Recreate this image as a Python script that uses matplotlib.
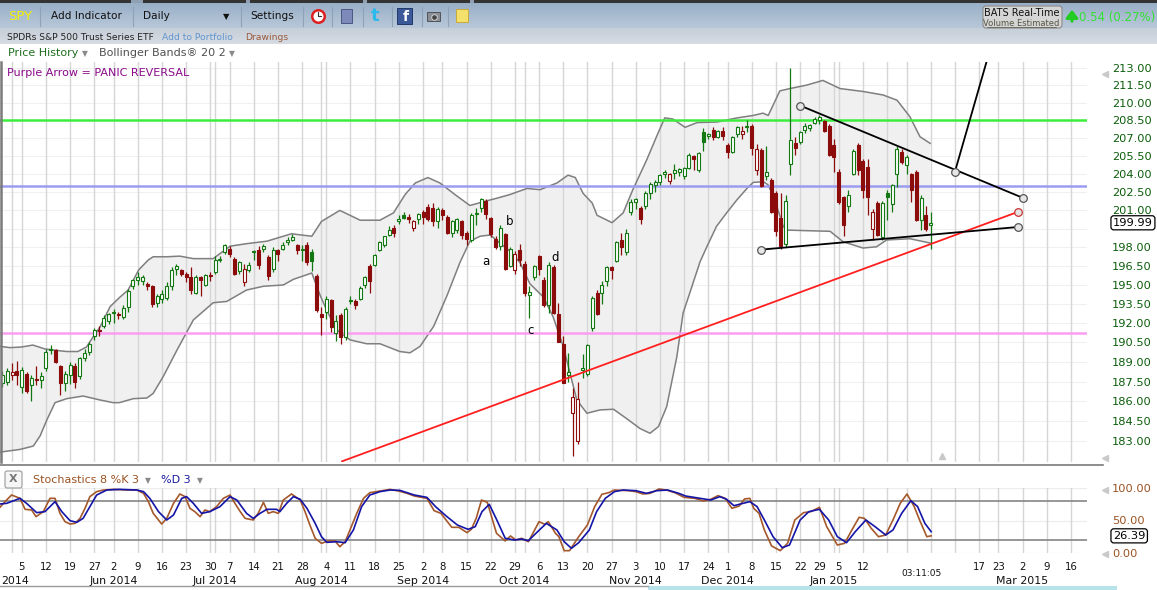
import numpy as np
import pandas as pd
import matplotlib
matplotlib.use("Agg")
import matplotlib.pyplot as plt
from matplotlib.patches import Rectangle, FancyBboxPatch
from matplotlib.ticker import FixedLocator, NullLocator, FormatStrFormatter
from matplotlib.transforms import blended_transform_factory

W, H, DPI = 1157, 590, 100

# ------------------------------------------------------------------
# data: SPY daily candles, 29 Apr 2014 .. 2 Feb 2015 (trading-day index 1..193)
# ------------------------------------------------------------------
HOLIDAYS = ["2014-05-26", "2014-07-04", "2014-09-01", "2014-11-27",
            "2014-12-25", "2015-01-01", "2015-01-19", "2015-02-16"]
FIRST_CANDLE = 1

opens = [
    187.4, 187.5, 188.0, 188.3, 187.1, 188.1, 187.2, 187.7, 187.6, 188.5,
    189.9, 189.9, 188.7, 187.4, 188.0, 188.7, 187.9, 189.3, 189.8, 191.0,
    191.5, 191.8, 192.2, 192.8, 192.7, 192.5, 193.3, 194.9, 195.4, 195.3,
    195.1, 194.9, 193.6, 193.9, 194.0, 194.9, 196.3, 196.2, 195.9, 195.6,
    194.4, 195.6, 195.0, 195.8, 196.0, 197.0, 197.6, 197.9, 197.1, 196.1,
    195.2, 196.2, 197.6, 197.8, 197.9, 197.2, 196.3, 197.8, 197.9, 198.4,
    198.6, 198.2, 197.8, 198.2, 197.6, 195.7, 192.7, 192.9, 193.8, 191.2,
    192.6, 190.9, 193.8, 193.7, 193.9, 195.0, 196.5, 196.6, 197.8, 198.2,
    199.0, 199.6, 200.1, 200.6, 200.5, 199.6, 200.3, 200.9, 201.3, 201.2,
    200.1, 201.0, 200.5, 199.2, 199.4, 200.1, 199.2, 198.6, 200.7, 201.2,
    201.8, 200.4, 198.7, 198.1, 199.1, 196.5, 196.2, 197.8, 196.7, 194.2,
    195.6, 197.3, 195.4, 193.4, 196.4, 192.7, 190.4, 188.0, 185.1, 183.0,
    188.4, 188.1, 191.6, 194.4, 194.4, 195.3, 196.4, 196.9, 198.6, 197.6,
    200.9, 201.7, 201.2, 201.4, 202.4, 203.1, 203.3, 204.0, 203.4, 204.1,
    204.2, 203.8, 204.5, 205.5, 204.3, 207.5, 207.2, 207.7, 207.1, 207.6,
    206.4, 205.8, 207.3, 207.3, 207.9, 208.0, 204.3, 206.0, 203.8, 203.5,
    202.4, 200.4, 198.3, 204.8, 206.6, 206.7, 207.7, 207.8, 208.3, 208.5,
    208.4, 208.0, 206.4, 204.2, 202.1, 201.4, 204.0, 206.4, 205.1, 204.6,
    199.5, 201.6, 198.8, 202.4, 201.5, 204.0, 205.8, 204.7, 204.0, 204.2,
    200.2, 200.6, 199.8]
highs = [
    188.3, 188.5, 188.9, 189.1, 188.6, 188.2, 188.0, 188.7, 188.2, 190.0,
    190.3, 190.0, 188.8, 188.3, 189.0, 188.9, 189.4, 190.0, 190.5, 191.6,
    191.8, 192.6, 192.8, 193.1, 192.9, 193.4, 194.7, 195.5, 196.0, 195.8,
    195.2, 195.0, 194.3, 194.6, 195.2, 196.4, 196.7, 196.3, 196.0, 196.4,
    195.8, 195.7, 195.9, 196.0, 197.3, 197.3, 198.3, 198.1, 197.2, 196.9,
    196.7, 196.8, 197.8, 198.1, 198.3, 197.4, 198.0, 197.9, 198.4, 198.8,
    199.1, 198.3, 198.2, 198.4, 197.9, 195.9, 193.3, 194.1, 193.9, 192.6,
    192.8, 193.3, 194.1, 193.9, 194.9, 195.7, 196.7, 197.5, 198.5, 198.9,
    199.7, 199.8, 200.6, 200.9, 200.7, 200.2, 200.8, 201.0, 201.5, 201.6,
    201.3, 201.2, 200.6, 200.2, 200.4, 200.2, 199.3, 200.8, 201.2, 202.0,
    201.9, 200.5, 198.9, 199.8, 199.2, 198.0, 197.7, 198.3, 196.9, 194.9,
    196.6, 197.4, 195.6, 196.8, 196.6, 193.6, 191.0, 189.7, 187.0, 187.5,
    189.6, 190.4, 194.1, 194.6, 195.3, 196.5, 196.5, 198.5, 199.2, 199.5,
    201.9, 202.0, 201.4, 202.6, 203.3, 203.5, 204.0, 204.3, 204.1, 204.8,
    204.5, 204.6, 205.7, 205.6, 205.8, 207.8, 207.4, 207.9, 207.7, 207.9,
    206.6, 207.2, 208.0, 208.0, 208.5, 208.2, 206.5, 206.2, 206.3, 203.7,
    202.6, 202.4, 202.3, 213.0, 207.1, 207.6, 208.3, 208.2, 208.8, 208.9,
    208.5, 208.2, 206.9, 204.4, 202.2, 202.7, 206.1, 206.6, 205.2, 205.2,
    201.1, 201.8, 201.8, 202.7, 203.2, 206.3, 206.1, 205.6, 204.1, 204.3,
    202.3, 201.4, 200.9]
lows = [
    187.1, 187.2, 187.6, 187.2, 186.6, 186.6, 186.0, 187.2, 187.0, 188.3,
    189.6, 188.9, 186.5, 186.8, 187.3, 187.0, 187.7, 189.1, 189.5, 190.7,
    191.0, 191.6, 191.9, 192.0, 192.3, 192.3, 192.9, 194.7, 195.0, 195.0,
    194.6, 193.3, 193.3, 193.6, 193.8, 194.6, 195.8, 195.7, 195.2, 194.3,
    194.3, 194.1, 194.9, 195.3, 195.9, 196.8, 197.5, 197.2, 195.8, 195.9,
    194.9, 196.0, 197.0, 196.3, 197.6, 195.4, 196.0, 196.9, 197.8, 198.2,
    198.5, 197.5, 196.9, 196.6, 196.1, 192.9, 191.1, 192.3, 191.3, 190.6,
    190.4, 190.7, 193.5, 193.1, 193.8, 194.8, 194.4, 196.5, 197.7, 198.0,
    198.9, 198.8, 199.9, 200.3, 200.0, 199.3, 199.9, 199.9, 200.1, 199.7,
    199.6, 200.2, 199.1, 198.8, 199.2, 198.7, 198.2, 198.4, 199.8, 200.9,
    200.3, 198.8, 197.9, 197.8, 196.2, 196.4, 195.9, 196.5, 194.1, 192.4,
    195.4, 195.8, 193.3, 192.8, 192.7, 190.5, 187.4, 187.5, 181.9, 182.8,
    187.8, 187.9, 191.4, 192.6, 193.5, 194.9, 195.5, 196.8, 197.4, 197.4,
    200.6, 201.1, 199.9, 201.1, 201.9, 202.5, 203.1, 203.7, 203.2, 203.6,
    203.8, 203.6, 204.4, 204.3, 204.2, 205.9, 206.9, 206.8, 207.0, 206.8,
    205.3, 205.7, 207.1, 206.9, 207.5, 205.6, 203.9, 202.9, 203.5, 200.8,
    198.9, 197.9, 198.0, 203.9, 205.6, 206.5, 207.4, 207.6, 208.2, 208.2,
    207.5, 205.5, 204.2, 201.5, 198.9, 200.9, 203.9, 203.9, 202.0, 200.6,
    198.6, 198.9, 198.6, 200.2, 200.9, 202.9, 204.8, 204.0, 201.7, 200.1,
    199.4, 199.3, 197.9]
closes = [
    188.0, 188.3, 188.2, 188.0, 188.4, 186.8, 187.8, 187.6, 187.95, 189.8,
    190.0, 189.0, 187.4, 188.1, 188.8, 187.5, 189.3, 189.7, 190.4, 191.5,
    191.4, 192.4, 192.7, 192.9, 192.6, 193.2, 194.5, 195.4, 195.6, 195.65,
    194.9, 193.5, 194.1, 194.3, 194.9, 196.2, 196.5, 195.9, 195.6, 194.6,
    195.6, 195.4, 195.8, 195.7, 197.0, 197.1, 198.2, 197.5, 195.9, 196.8,
    196.3, 196.6, 197.7, 196.6, 198.1, 195.7, 197.8, 197.5, 198.2, 198.6,
    198.8, 197.8, 197.9, 196.8, 196.9, 193.0, 192.5, 193.9, 191.7, 192.2,
    190.9, 193.1, 193.7, 193.4, 194.8, 195.6, 195.3, 197.4, 198.4, 198.9,
    199.4, 199.2, 200.3, 200.4, 200.3, 200.1, 200.7, 200.5, 200.3, 200.1,
    201.1, 200.6, 199.2, 200.1, 200.3, 199.0, 198.7, 200.6, 200.8, 201.9,
    200.7, 199.1, 198.0, 199.6, 196.3, 197.9, 197.5, 197.0, 194.4, 194.45,
    196.5, 196.3, 193.4, 196.6, 192.8, 190.5, 187.4, 188.2, 186.3, 186.2,
    188.5, 190.3, 194.0, 192.7, 195.0, 196.4, 196.2, 198.4, 198.0, 199.2,
    201.7, 201.9, 200.3, 202.4, 203.2, 203.3, 203.9, 204.2, 204.0, 204.3,
    204.4, 204.5, 205.6, 205.2, 205.7, 206.7, 207.3, 207.1, 207.6, 207.2,
    205.8, 207.1, 207.9, 207.6, 208.0, 206.2, 206.1, 203.0, 204.2, 200.9,
    199.3, 198.1, 201.8, 206.8, 206.2, 207.5, 208.0, 208.1, 208.6, 208.8,
    207.6, 205.6, 205.4, 201.7, 199.8, 202.3, 205.9, 204.3, 202.7, 202.1,
    200.9, 199.0, 201.6, 202.1, 203.1, 206.1, 205.0, 205.4, 202.7, 200.2,
    202.0, 199.45, 199.99]

# Bollinger Bands (20, 2)
upper_idx = [0.5, 2.6, 5.0, 7.3, 9.8, 11.9, 14.3, 16.6, 18.4, 19.8, 21.2, 23.3, 25.2,
             27.0, 29.2, 31.2, 32.2, 35.0, 37.7, 40.5, 44.6, 48.1, 51.5, 55.7, 60.8,
             65.0, 67.0, 70.8, 75.0, 79.1, 81.9, 84.3, 86.4, 89.0, 91.5, 94.6, 97.7,
             100.4, 103.3, 106.0, 109.5, 112.2, 115.7, 118.0, 119.5, 121.1, 123.0,
             124.0, 127.1, 129.4, 131.4, 134.3, 136.6, 138.0, 139.7, 142.2, 144.7,
             148.8, 153.0, 156.25, 158.3, 159.4, 161.8, 163.9, 167.4, 170.7, 174.25,
             179.0, 183.15, 186.05, 188.7, 190.8, 192.9]
upper_val = [190.2, 190.1, 190.15, 190.3, 190.0, 189.9, 189.8, 189.8, 190.15, 190.95,
             191.7, 193.3, 194.0, 194.6, 196.2, 197.0, 197.25, 197.25, 197.3, 197.1,
             197.1, 198.1, 198.3, 198.5, 199.1, 198.9, 200.1, 201.0, 200.2, 200.2,
             200.8, 202.3, 203.25, 203.7, 203.25, 202.3, 201.4, 201.7, 202.0, 202.3,
             202.8, 202.7, 203.25, 203.9, 203.7, 202.4, 201.6, 200.6, 200.0, 200.8,
             202.7, 205.2, 207.4, 208.7, 208.6, 207.9, 208.3, 208.35, 208.7, 208.9,
             209.1, 208.9, 211.0, 211.2, 211.5, 211.9, 211.2, 210.95, 210.65, 210.2,
             208.8, 207.1, 206.55]
lower_idx = [0.5, 4.65, 7.4, 8.8, 10.2, 11.9, 14.3, 17.7, 21.2, 23.9, 25.2, 28.1, 30.9,
             32.2, 34.3, 37.1, 40.5, 44.6, 47.4, 51.5, 55.0, 59.1, 61.2, 65.0, 66.7,
             68.1, 70.1, 72.9, 76.35, 79.1, 83.2, 85.3, 87.4, 90.2, 92.9, 95.65, 97.7,
             99.8, 101.9, 103.9, 106.0, 108.1, 110.1, 112.9, 114.9, 117.0, 118.4,
             119.8, 121.9, 124.6, 127.4, 130.1, 132.9, 134.95, 136.7, 138.4, 140.5,
             141.8, 143.2, 145.3, 146.7, 148.7, 150.8, 152.9, 155.0, 156.3, 158.4,
             159.35, 160.2, 161.2, 162.5, 163.3, 167.4, 172.2, 174.9, 179.0, 181.8,
             183.9, 188.7, 192.9]
lower_val = [182.2, 182.4, 182.65, 183.4, 184.6, 185.9, 186.2, 186.4, 186.1, 185.9,
             185.9, 186.2, 186.25, 186.6, 187.9, 189.9, 192.25, 193.6, 193.7, 194.6,
             194.9, 195.0, 195.45, 195.95, 194.2, 193.0, 191.5, 190.7, 190.4, 190.4,
             189.8, 189.7, 190.2, 191.75, 194.1, 196.8, 198.5, 198.9, 199.0, 198.35,
             197.7, 196.75, 195.1, 194.05, 192.5, 190.2, 188.15, 186.1, 185.1, 185.35,
             185.4, 184.7, 183.95, 183.6, 184.1, 185.6, 189.4, 192.8, 194.4, 196.85,
             198.05, 199.7, 200.8, 201.85, 202.8, 203.3, 203.35, 203.1, 202.4, 201.3,
             199.7, 199.4, 199.35, 199.3, 198.45, 197.95, 198.05, 198.6, 198.7, 198.35]

# Stochastics 8 %K 3 / %D 3
k_idx = [0.5, 1.55, 2.9, 4.65, 5.7, 7.06, 7.96, 9.47, 10.85, 11.89, 12.92, 13.96, 14.99,
         16.02, 17.06, 18.09, 19.1, 20.5, 21.9, 23.95, 26.7, 28.8, 30.2, 31.2, 32.2,
         33.95, 35.0, 36.4, 37.7, 38.8, 39.8, 40.8, 41.9, 42.9, 43.9, 45.3, 46.7, 48.1,
         49.1, 50.2, 51.2, 52.9, 53.9, 55.0, 56.0, 57.0, 58.1, 59.1, 60.8, 62.6, 63.6,
         64.6, 65.7, 67.0, 68.4, 69.8, 70.8, 71.9, 72.9, 74.3, 75.7, 77.0, 79.1, 81.2,
         83.2, 84.7, 86.2, 88.8, 90.3, 91.7, 93.95, 95.4, 97.1, 98.0, 99.0, 100.1,
         101.3, 103.2, 105.0, 106.1, 107.2, 108.4, 109.8, 112.0, 113.2, 113.9, 115.4,
         116.1, 117.2, 118.3, 120.2, 122.0, 123.5, 125.0, 126.4, 127.6, 130.5, 132.0,
         133.5, 135.0, 136.8, 138.3, 140.1, 142.0, 144.2, 146.0, 147.5, 149.0, 150.5,
         151.9, 153.4, 154.5, 155.6, 156.4, 157.5, 158.6, 160.1, 161.9, 163.4, 164.9,
         166.7, 168.2, 170.0, 171.5, 173.7, 175.2, 176.7, 178.2, 179.3, 180.7, 182.2,
         183.7, 185.2, 186.7, 188.1, 189.6, 190.7, 192.2, 193.1]
k_val = [70.3, 79.0, 89.2, 84.1, 67.2, 66.2, 55.9, 63.6, 84.1, 84.1, 61.0, 48.2, 44.6,
         45.6, 53.3, 68.7, 86.7, 94.4, 96.9, 97.9, 96.9, 96.9, 91.8, 79.0, 61.0,
         44.6, 53.3, 76.4, 90.8, 86.7, 68.7, 63.6, 55.9, 66.2, 63.6, 71.3, 84.1, 89.2,
         76.4, 63.6, 53.3, 50.8, 61.0, 77.9, 61.0, 63.6, 61.0, 81.5, 90.8, 81.5, 63.6,
         43.1, 22.6, 14.9, 18.5, 18.5, 9.7, 17.4, 35.4, 61.0, 84.1, 92.8, 95.4, 97.9,
         94.9, 91.8, 87.7, 84.1, 65.1, 61.0, 39.5, 39.5, 31.3, 36.4, 53.3, 81.5,
         77.9, 30.3, 18.5, 26.2, 20.0, 22.6, 17.4, 48.2, 44.1, 48.2, 30.3,
         25.1, 3.6, 3.6, 25.1, 43.1, 71.3, 90.3, 92.8, 96.9, 95.9, 94.4,
         90.8, 91.8, 98.5, 96.9, 92.8, 85.6, 84.1, 80.0, 82.6, 88.2, 84.1,
         68.7, 72.3, 83.1, 84.1, 68.7, 61.0, 35.4, 10.8, 3.6, 14.9, 50.8,
         62.1, 63.6, 70.3, 40.5, 12.3, 14.9, 35.4, 54.9, 53.3, 38.0, 25.1,
         27.7, 50.8, 76.4, 90.8, 71.3, 50.8, 25.1, 26.4]
d_idx = [0.5, 1.9, 4.65, 6.0, 8.1, 9.8, 11.9, 13.3, 15.0, 16.4, 17.7, 19.1, 20.5, 22.6,
         25.3, 28.8, 30.2, 31.5, 33.3, 35.0, 36.4, 38.1, 39.1, 40.5, 42.2, 43.9, 46.0,
         48.1, 49.5, 51.5, 52.9, 54.3, 55.7, 57.7, 58.4, 59.8, 61.2, 62.6, 64.0, 65.7,
         67.0, 68.1, 70.1, 71.9, 73.6, 75.3, 77.0, 79.1, 81.2, 83.2, 86.2, 88.8, 90.6,
         92.8, 95.1, 97.3, 98.8, 100.2, 101.7, 103.2, 105.0, 106.9, 108.4, 109.8,
         111.7, 113.5, 115.7, 117.2, 118.7, 120.2, 122.4, 123.9, 125.7, 127.6, 129.4,
         132.0, 134.2, 136.4, 138.6, 140.9, 142.3, 145.3, 147.5, 149.4, 150.8, 152.3,
         154.2, 155.6, 157.1, 158.6, 160.4, 162.3, 163.8, 166.0, 167.8, 170.0, 171.9,
         173.7, 175.6, 177.4, 179.6, 181.5, 183.7, 185.2, 187.0, 188.9, 190.3, 191.8,
         193.1]
d_val = [75.4, 76.4, 84.1, 76.4, 62.1, 63.6, 79.0, 63.6, 49.7, 47.2, 53.3, 71.3, 89.2, 96.9,
         97.9, 96.9, 94.4, 84.1, 63.6, 50.8, 58.5, 84.1, 86.7, 76.4, 61.0, 63.6, 71.3,
         86.7, 81.5, 61.0, 53.3, 61.0, 67.2, 67.2, 63.6, 76.4, 86.7, 82.6, 68.7, 45.6,
         25.1, 16.4, 17.4, 15.9, 35.4, 71.3, 89.2, 94.4, 96.9, 96.4, 89.2, 85.6, 71.3,
         56.9, 43.1, 36.4, 40.5, 63.6, 74.9, 51.8, 22.6, 20.0, 21.5, 19.0,
         32.8, 45.6, 35.4, 17.4, 7.2, 15.9, 35.4, 63.6, 84.1, 94.4, 96.9,
         95.9, 91.8, 95.9, 96.9, 91.8, 87.7, 84.1, 81.5, 86.7, 82.6, 72.8,
         76.4, 79.0, 71.3, 50.8, 25.1, 8.2, 12.3, 50.8, 63.6, 67.2, 50.8,
         25.1, 15.9, 32.8, 50.8, 40.5, 27.7, 35.4, 61.0, 80.5, 71.3, 45.6,
         32.8]

# horizontal levels and drawn trend lines (index, price)
green_level = 208.55
blue_level = 203.0
pink_level = 191.2
res_line = ([166.03, 212.1], [209.74, 202.02])
steep_line = ([198.02, 205.85], [204.19, 215.41])
sup_line = ([157.9, 211.12], [197.82, 199.65])
red_line = ([71.25, 211.12], [181.52, 200.89])
anchor_idx = [166.03, 198.02, 212.1, 157.9, 211.12]
anchor_val = [209.74, 204.19, 202.02, 197.82, 199.65]
red_anchor = (211.12, 200.89)
wave_labels = ["a", "b", "c", "d"]
wave_idx = [101.0, 106.0, 110.3, 115.3]
wave_val = [196.83, 200.06, 191.39, 197.23]
price_ticks = [183 + 1.5 * k for k in range(21) if k != 11]
last_price = 199.99
last_stoch = 26.39
hidden_weeks = ["2015-01-20", "2015-01-26", "2015-02-02", "2015-02-09"]
hidden_months = ["Feb 2015"]

# ------------------------------------------------------------------
cal = pd.bdate_range("2014-04-28", "2015-03-20")
cal = cal[~cal.isin(pd.to_datetime(HOLIDAYS))]
wk = cal.to_period("W")
mo = cal.to_period("M")
week_first = [i for i in range(1, len(cal)) if wk[i] != wk[i - 1]]
month_first = [i for i in range(1, len(cal)) if mo[i] != mo[i - 1]]
grid_idx = sorted(set(week_first + month_first))

X_LEFT, X_RIGHT = 0.512, 225.33
GREEN, RED = "#127812", "#8c0b0b"

fig = plt.figure(figsize=(W / DPI, H / DPI), dpi=DPI)
fig.patch.set_facecolor("white")

# ---------------- price panel ----------------
ax = fig.add_axes([0, 1 - 462 / H, 1087 / W, 400 / H])
ax.set_facecolor("none")
ax.set_yscale("log")
for s in ax.spines.values():
    s.set_visible(False)

for t in np.arange(183, 213.01, 1.5):
    ax.axhline(t, color="#f0f0f0", lw=0.8, zorder=0)

px = upper_idx + lower_idx[::-1]
py = upper_val + lower_val[::-1]
ax.fill(px, py, color="#f0f0f0", lw=0, zorder=1)
for i in grid_idx:
    ax.axvline(i, color="#d6d6d6", lw=1.0, zorder=1.5)
ax.plot(upper_idx, upper_val, color="#7f7f7f", lw=1.1, zorder=2)
ax.plot(lower_idx, lower_val, color="#7f7f7f", lw=1.1, zorder=2)

ax.axhline(green_level, color="#3cee3c", lw=1.8, zorder=3)
ax.axhline(blue_level, color="#9c9cf2", lw=1.8, zorder=3)
ax.axhline(pink_level, color="#fb9ef0", lw=1.8, zorder=3)

o = np.array(opens); h = np.array(highs); l = np.array(lows); c = np.array(closes)
cx = np.arange(FIRST_CANDLE, FIRST_CANDLE + len(c))
prev = np.r_[o[0], c[:-1]]
col = np.where(c >= prev, GREEN, RED)
hollow = c > o
bot = np.minimum(o, c)
hgt = np.maximum(np.abs(c - o), 0.04)
ax.vlines(cx, l, h, colors=col, lw=0.9, zorder=4)
ax.bar(cx, hgt, bottom=bot, width=0.62, color=np.where(hollow, "white", col),
       edgecolor=col, linewidth=0.8, zorder=5)

ax.plot(*red_line, color="#ff1f1f", lw=1.3, zorder=6)
ax.plot(*res_line, color="black", lw=1.3, zorder=6)
ax.plot(*steep_line, color="black", lw=1.3, zorder=6)
ax.plot(*sup_line, color="black", lw=1.3, zorder=6)
ax.plot(anchor_idx, anchor_val, "o", ms=5.5, mfc="#e6e6e6", mec="#555555", mew=0.9, zorder=7)
ax.plot(*red_anchor, "o", ms=5.5, mfc="#e6e6e6", mec="#cc3333", mew=0.9, zorder=7)
for lab, xi, yv in zip(wave_labels, wave_idx, wave_val):
    ax.text(xi, yv, lab, fontsize=8.5, ha="center", va="center", zorder=8)

ax.set_xlim(X_LEFT, X_RIGHT)
ax.set_ylim(181.47, 213.49)
ax.set_xticks([])
ax.yaxis.tick_right()
ax.yaxis.set_major_locator(FixedLocator(price_ticks))
ax.yaxis.set_major_formatter(FormatStrFormatter("%.2f"))
ax.yaxis.set_minor_locator(NullLocator())
ax.tick_params(axis="y", length=0, pad=18, labelsize=8.2, labelcolor="#0b5d0b")
ax.text(1 + 26 / 1087, last_price, f"{last_price:.2f}", transform=ax.get_yaxis_transform(),
        ha="left", va="center", fontsize=8.2, color="black",
        bbox=dict(boxstyle="round,pad=0.18,rounding_size=0.25", fc="white", ec="black", lw=0.9))

# ---------------- stochastics panel ----------------
ax2 = fig.add_axes([0, 1 - 553 / H, 1087 / W, 65 / H])
ax2.set_facecolor("none")
for s in ax2.spines.values():
    s.set_visible(False)
for v in (0, 50, 100):
    ax2.axhline(v, color="#ececec", lw=0.8, zorder=0)
for i in grid_idx:
    ax2.axvline(i, color="#d6d6d6", lw=1.0, zorder=1)
ax2.axhline(80, color="#858585", lw=1.2, zorder=2)
ax2.axhline(20, color="#858585", lw=1.2, zorder=2)
ax2.plot(k_idx, k_val, color="#a5582a", lw=1.2, zorder=3)
ax2.plot(d_idx, d_val, color="#1414a8", lw=1.2, zorder=4)
ax2.set_xlim(X_LEFT, X_RIGHT)
ax2.set_ylim(0, 100)
ax2.set_xticks([])
ax2.yaxis.tick_right()
ax2.yaxis.set_major_locator(FixedLocator([0, 50, 100]))
ax2.yaxis.set_major_formatter(FormatStrFormatter("%.2f"))
ax2.tick_params(axis="y", length=0, pad=18, labelsize=8.2, labelcolor="#9a5322")
ax2.text(1 + 26 / 1087, last_stoch, f"{last_stoch:.2f}", transform=ax2.get_yaxis_transform(),
         ha="left", va="center", fontsize=8.2, color="black",
         bbox=dict(boxstyle="round,pad=0.18,rounding_size=0.25", fc="white", ec="black", lw=0.9))

# ---------------- overlay in pixel coordinates ----------------
ov = fig.add_axes([0, 0, 1, 1], zorder=10)
ov.patch.set_alpha(0)

g1 = np.linspace(0, 1, 25)[:, None, None]
top_c = np.array([0.60, 0.69, 0.78]); mid_c = np.array([0.72, 0.78, 0.85])
ov.imshow(top_c + (mid_c - top_c) * g1, extent=[0, W, 28, 3], aspect="auto", zorder=0)
g2 = np.linspace(0, 1, 16)[:, None, None]
lo_a = np.array([0.78, 0.81, 0.85]); lo_b = np.array([0.84, 0.86, 0.89])
ov.imshow(lo_a + (lo_b - lo_a) * g2, extent=[0, W, 44, 28], aspect="auto", zorder=0)
ov.add_patch(Rectangle((0, 0), W, 3, fc="#333333", ec="none", zorder=1))
for gx in (131, 246, 363, 470):
    ov.add_patch(Rectangle((gx, 0), 12 if gx == 131 else 4, 3, fc="#8fa0b2", ec="none", zorder=1))
for sx in (40, 133, 241, 303, 332, 363, 392, 422, 448):
    ov.plot([sx, sx], [7, 26], color="#8ea1b5", lw=0.8, zorder=1)

ov.text(8, 16, "SPY", color="#f2f200", fontsize=9.5, va="center", zorder=2)
ov.text(51, 16, "Add Indicator", color="#111111", fontsize=7.6, va="center", zorder=2)
ov.text(143, 16, "Daily", color="#111111", fontsize=7.6, va="center", zorder=2)
ov.text(226, 17, "\u25BC", color="#111111", fontsize=6, va="center", ha="center", zorder=2)
ov.text(250, 16, "Settings", color="#111111", fontsize=7.6, va="center", zorder=2)

# toolbar icons
ov.plot(318, 16, "o", ms=9, mfc="white", mec="#dd2020", mew=1.8, zorder=3)
ov.plot([318, 318, 321], [12, 16, 16], color="#333333", lw=0.8, zorder=4)
ov.add_patch(Rectangle((341, 9), 11, 14, fc="#7c89b9", ec="#4b5783", lw=0.7, zorder=3))
ov.text(375, 16, "t", color="#2bb8ea", fontsize=13, fontweight="bold", ha="center", va="center", zorder=3)
ov.add_patch(Rectangle((397, 8), 15, 16, fc="#3b5998", ec="#22386a", lw=0.7, zorder=3))
ov.text(406, 17, "f", color="white", fontsize=10, fontweight="bold", ha="center", va="center", zorder=4)
ov.add_patch(Rectangle((427, 12), 13, 9, fc="#8b9097", ec="#50545a", lw=0.7, zorder=3))
ov.plot(433.5, 16.5, "o", ms=4, mfc="#444444", mec="#dddddd", mew=0.6, zorder=4)
ov.add_patch(Rectangle((456, 9), 12, 13, fc="#f4e16b", ec="#c9a93a", lw=0.7, zorder=3))

ov.text(7, 37, "SPDRs S&P 500 Trust Series ETF", color="#222222", fontsize=6.6, va="center", zorder=2)
ov.text(162, 37, "Add to Portfolio", color="#5f95cf", fontsize=6.6, va="center", zorder=2)
ov.text(245, 37, "Drawings", color="#9a5a3a", fontsize=6.6, va="center", zorder=2)

ov.add_patch(FancyBboxPatch((983, 6), 79, 22, boxstyle="round,pad=0,rounding_size=3",
                            fc="#d5d5d5", ec="#8a8a8a", lw=0.8, zorder=2))
ov.text(1022, 12.5, "BATS Real-Time", color="#111111", fontsize=7, ha="center", va="center", zorder=3)
ov.text(1021, 23, "Volume Estimated", color="#555544", fontsize=6, ha="center", va="center", zorder=3)
ov.plot([987, 1056], [27, 27], color="#555544", lw=0.5, zorder=3)
ov.annotate("", xy=(1072, 7), xytext=(1072, 24), zorder=3,
            arrowprops=dict(arrowstyle="-|>,head_width=0.35,head_length=0.45", color="#22cc22", lw=2.2))
ov.text(1079, 17, "0.54 (0.27%)", color="#33e033", fontsize=8.5, va="center", zorder=3)

ov.text(8, 53, "Price History", color="#1f6f1f", fontsize=8, va="center")
ov.text(85, 54, "\u25BC", color="#888888", fontsize=5.5, va="center", ha="center")
ov.text(99, 53, "Bollinger Bands\u00AE 20 2", color="#505050", fontsize=8, va="center")
ov.text(232, 54, "\u25BC", color="#888888", fontsize=5.5, va="center", ha="center")
ov.text(7, 73, "Purple Arrow = PANIC REVERSAL", color="#8a0a8a", fontsize=8, va="center")

ov.plot([1.2, 1.2], [62, 462], color="#7a7a7a", lw=1.8)
ov.plot([0, 1103], [465, 465], color="#7a7a7a", lw=1.2)
for tx, ty, mk in [(1105, 74, "<"), (1105, 458, "<"), (1105, 490, "<"), (1105, 554, "<"), (942, 456, "^")]:
    ov.plot(tx, ty, marker=mk, ms=5, color="#c9c9c9", mec="#c9c9c9")

ov.add_patch(FancyBboxPatch((5, 471), 17, 17, boxstyle="round,pad=0,rounding_size=2",
                            fc="#f6f6f6", ec="#9a9a9a", lw=0.8))
ov.text(13.5, 479.5, "X", color="#777777", fontsize=8, fontweight="bold", ha="center", va="center")
ov.text(33, 480, "Stochastics 8 %K 3", color="#9a5322", fontsize=8, va="center")
ov.text(148, 481, "\u25BC", color="#888888", fontsize=5.5, va="center", ha="center")
ov.text(161, 480, "%D 3", color="#1a1aa0", fontsize=8, va="center")
ov.text(200, 481, "\u25BC", color="#888888", fontsize=5.5, va="center", ha="center")

# date axis
dt = blended_transform_factory(ax2.transData, ov.transData)
for i in week_first:
    if i < 5 or cal[i].strftime("%Y-%m-%d") in hidden_weeks:
        continue
    ov.text(i, 567, str(cal[i].day), transform=dt, fontsize=7.3, ha="center", va="center", color="#111111")
for n, i in enumerate(month_first):
    lab = cal[i].strftime("%b %Y")
    if lab in hidden_months:
        continue
    if n == 0:
        # first month sits at the left edge: only its year is visible, as in the original
        ov.text(1, 581, cal[i].strftime("%Y"), fontsize=7.9, ha="left", va="center", color="#111111")
        continue
    ov.text(i, 581, lab, transform=dt, fontsize=7.9, ha="center", va="center", color="#111111")
ov.text(922, 573, "03:11:05", fontsize=6.5, ha="center", va="center", color="#111111")

ov.plot([0, 648], [586, 586], color="#9a9a9a", lw=1.0)
ov.add_patch(Rectangle((648, 586), 469, 4, fc="#b8e3ea", ec="none"))

ov.set_xlim(0, W)
ov.set_ylim(H, 0)
ov.axis("off")

fig.savefig("out.png", dpi=DPI)
